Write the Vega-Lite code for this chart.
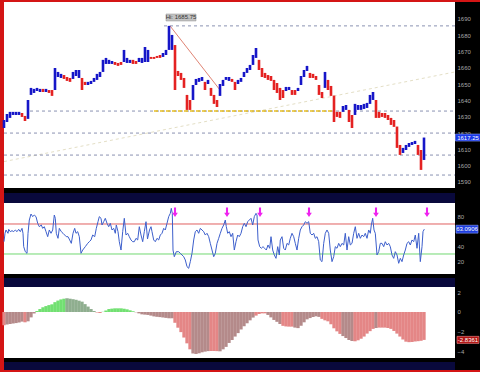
{
"$schema": "https://vega.github.io/schema/vega-lite/v6.json",
"background": "#d41515",
"padding": {"left": 2, "top": 2, "right": 2, "bottom": 2},
"spacing": 0,
"resolve": {"scale": {"color": "independent", "x": "independent", "y": "independent"}},
"config": {"view": {"fill": "#000000", "stroke": null}, "concat": {"spacing": 0},
  "axis": {"labelColor": "#a8a8a8", "labelFont": "Liberation Sans", "labelFontSize": 6, "ticks": false, "domain": false, "grid": false, "labelPadding": 2, "labelOverlap": false, "labelBound": false, "labelFlush": false},
  "text": {"font": "Liberation Sans"}},
"datasets": {
"one": [{"k": 1}],
"price": [
{"t":2,"h":1628,"l":1623.1,"d":"u"},{"t":5,"h":1631.7,"l":1626.8,"d":"u"},{"t":8,"h":1633,"l":1629.3,"d":"u"},{"t":11,"h":1633,"l":1631.1,"d":"u"},{"t":14,"h":1633,"l":1631.1,"d":"u"},{"t":17,"h":1633,"l":1631.1,"d":"u"},{"t":20,"h":1632.3,"l":1629.9,"d":"d"},{"t":23,"h":1630.5,"l":1627.4,"d":"d"},{"t":26,"h":1640.3,"l":1628.7,"d":"u"},{"t":29,"h":1647.7,"l":1643.4,"d":"u"},{"t":32,"h":1647.1,"l":1644.6,"d":"u"},{"t":35,"h":1647.7,"l":1645.8,"d":"u"},{"t":38,"h":1647.1,"l":1645.2,"d":"u"},{"t":41,"h":1647.1,"l":1645.2,"d":"d"},{"t":44,"h":1647.1,"l":1645.2,"d":"u"},{"t":47,"h":1646.4,"l":1644.6,"d":"d"},{"t":50,"h":1646.4,"l":1642.8,"d":"d"},{"t":53,"h":1659.9,"l":1646.4,"d":"u"},{"t":56,"h":1657.5,"l":1654.4,"d":"u"},{"t":59,"h":1656.3,"l":1653.8,"d":"u"},{"t":62,"h":1655.6,"l":1653.2,"d":"d"},{"t":65,"h":1654.4,"l":1652,"d":"d"},{"t":68,"h":1653.8,"l":1651.4,"d":"d"},{"t":71,"h":1657.5,"l":1653.2,"d":"u"},{"t":74,"h":1658.7,"l":1655,"d":"u"},{"t":77,"h":1658.7,"l":1653.8,"d":"u"},{"t":80,"h":1653.8,"l":1646.4,"d":"d"},{"t":83,"h":1651.4,"l":1649.5,"d":"d"},{"t":86,"h":1651.4,"l":1649.5,"d":"u"},{"t":89,"h":1652,"l":1650.1,"d":"u"},{"t":92,"h":1653.8,"l":1651.4,"d":"u"},{"t":95,"h":1656.3,"l":1652.6,"d":"u"},{"t":98,"h":1657.5,"l":1654.4,"d":"u"},{"t":101,"h":1664.9,"l":1657.5,"d":"u"},{"t":104,"h":1666.1,"l":1662.4,"d":"u"},{"t":107,"h":1664.9,"l":1662.4,"d":"u"},{"t":110,"h":1664.2,"l":1662.4,"d":"u"},{"t":113,"h":1663.6,"l":1661.8,"d":"d"},{"t":116,"h":1663,"l":1661.2,"d":"d"},{"t":119,"h":1663.6,"l":1661.8,"d":"d"},{"t":122,"h":1671,"l":1663.6,"d":"u"},{"t":125,"h":1666.1,"l":1663,"d":"u"},{"t":128,"h":1664.9,"l":1663,"d":"u"},{"t":131,"h":1664.9,"l":1662.4,"d":"d"},{"t":134,"h":1664.2,"l":1662.4,"d":"d"},{"t":137,"h":1666.1,"l":1663.6,"d":"u"},{"t":140,"h":1666.1,"l":1663,"d":"u"},{"t":143,"h":1672.8,"l":1663.6,"d":"u"},{"t":146,"h":1671,"l":1663.6,"d":"u"},{"t":149,"h":1666.7,"l":1665.5,"d":"d"},{"t":152,"h":1666.7,"l":1665.5,"d":"d"},{"t":155,"h":1667.3,"l":1666.1,"d":"d"},{"t":158,"h":1667.9,"l":1666.1,"d":"d"},{"t":161,"h":1669.1,"l":1666.7,"d":"u"},{"t":164,"h":1671,"l":1667.9,"d":"u"},{"t":167,"h":1685.75,"l":1671,"d":"u"},{"t":170,"h":1680.2,"l":1671,"d":"u"},{"t":173,"h":1674,"l":1646.4,"d":"d"},{"t":176,"h":1658.1,"l":1655,"d":"d"},{"t":179,"h":1656.9,"l":1652.6,"d":"d"},{"t":182,"h":1653.8,"l":1647.7,"d":"d"},{"t":185,"h":1643.4,"l":1634.2,"d":"d"},{"t":188,"h":1640.3,"l":1634.2,"d":"d"},{"t":191,"h":1649.5,"l":1640.3,"d":"u"},{"t":194,"h":1653.2,"l":1649.5,"d":"u"},{"t":197,"h":1653.8,"l":1651.4,"d":"u"},{"t":200,"h":1654.4,"l":1652,"d":"u"},{"t":203,"h":1651.4,"l":1646.4,"d":"d"},{"t":206,"h":1652.6,"l":1650.1,"d":"u"},{"t":209,"h":1647.7,"l":1642.8,"d":"d"},{"t":212,"h":1643.4,"l":1637.9,"d":"d"},{"t":215,"h":1640.3,"l":1636,"d":"d"},{"t":218,"h":1650.1,"l":1642.8,"d":"u"},{"t":221,"h":1652.6,"l":1648.9,"d":"u"},{"t":224,"h":1654.4,"l":1652.6,"d":"u"},{"t":227,"h":1654.4,"l":1652,"d":"u"},{"t":230,"h":1653.2,"l":1651.4,"d":"d"},{"t":233,"h":1651.4,"l":1646.4,"d":"d"},{"t":236,"h":1652.6,"l":1650.1,"d":"u"},{"t":239,"h":1653.8,"l":1651.4,"d":"u"},{"t":242,"h":1657.5,"l":1654.4,"d":"u"},{"t":245,"h":1659.9,"l":1656.9,"d":"u"},{"t":248,"h":1661.8,"l":1658.7,"d":"u"},{"t":251,"h":1667.9,"l":1661.8,"d":"u"},{"t":254,"h":1672.2,"l":1666.1,"d":"u"},{"t":257,"h":1664.9,"l":1658.7,"d":"d"},{"t":260,"h":1659.9,"l":1654.4,"d":"d"},{"t":263,"h":1656.9,"l":1653.8,"d":"d"},{"t":266,"h":1655.6,"l":1652.6,"d":"d"},{"t":269,"h":1655,"l":1652,"d":"d"},{"t":272,"h":1652.6,"l":1646.4,"d":"d"},{"t":275,"h":1650.7,"l":1644.6,"d":"d"},{"t":278,"h":1647.7,"l":1640.3,"d":"d"},{"t":281,"h":1646.4,"l":1641.5,"d":"d"},{"t":284,"h":1648.3,"l":1645.8,"d":"u"},{"t":287,"h":1648.3,"l":1646.4,"d":"u"},{"t":290,"h":1646.4,"l":1643.4,"d":"d"},{"t":293,"h":1646.4,"l":1643.4,"d":"d"},{"t":296,"h":1647.7,"l":1645.8,"d":"u"},{"t":299,"h":1655,"l":1649.5,"d":"u"},{"t":302,"h":1658.7,"l":1654.4,"d":"u"},{"t":305,"h":1661.2,"l":1658.1,"d":"u"},{"t":308,"h":1656.9,"l":1653.8,"d":"d"},{"t":311,"h":1656.3,"l":1653.8,"d":"d"},{"t":314,"h":1655,"l":1652.6,"d":"d"},{"t":317,"h":1649.5,"l":1643.4,"d":"d"},{"t":320,"h":1645.2,"l":1641.5,"d":"d"},{"t":323,"h":1657.5,"l":1647.7,"d":"u"},{"t":326,"h":1652.6,"l":1646.4,"d":"d"},{"t":329,"h":1648.9,"l":1642.8,"d":"d"},{"t":332,"h":1643,"l":1626.8,"d":"d"},{"t":335,"h":1633,"l":1629.9,"d":"d"},{"t":338,"h":1633,"l":1629.3,"d":"d"},{"t":341,"h":1636.6,"l":1633,"d":"u"},{"t":344,"h":1637.2,"l":1634.2,"d":"u"},{"t":347,"h":1634.2,"l":1626.8,"d":"d"},{"t":350,"h":1631.1,"l":1623.1,"d":"d"},{"t":353,"h":1637.9,"l":1631.1,"d":"u"},{"t":356,"h":1637.2,"l":1634.2,"d":"u"},{"t":359,"h":1637.2,"l":1634.2,"d":"u"},{"t":362,"h":1637.9,"l":1634.8,"d":"u"},{"t":365,"h":1638.5,"l":1635.4,"d":"u"},{"t":368,"h":1643.4,"l":1637.9,"d":"u"},{"t":371,"h":1645.2,"l":1640.3,"d":"u"},{"t":374,"h":1640.3,"l":1629.3,"d":"d"},{"t":377,"h":1633,"l":1629.3,"d":"d"},{"t":380,"h":1632.3,"l":1629.9,"d":"d"},{"t":383,"h":1632.3,"l":1629.3,"d":"d"},{"t":386,"h":1631.1,"l":1628,"d":"d"},{"t":389,"h":1629.3,"l":1625,"d":"d"},{"t":392,"h":1628,"l":1623.8,"d":"d"},{"t":395,"h":1624,"l":1610.9,"d":"d"},{"t":398,"h":1612.7,"l":1606.6,"d":"d"},{"t":401,"h":1610.9,"l":1607.8,"d":"u"},{"t":404,"h":1612.7,"l":1609.6,"d":"u"},{"t":407,"h":1613.9,"l":1611.5,"d":"u"},{"t":410,"h":1614.5,"l":1612.7,"d":"u"},{"t":413,"h":1615.2,"l":1613.3,"d":"u"},{"t":416,"h":1612.7,"l":1606.6,"d":"d"},{"t":419,"h":1609.6,"l":1597.4,"d":"d"},{"t":422,"h":1617.25,"l":1603.5,"d":"u"}
],
"levels": [{"v":1685.75,"t1":162},{"v":1633.5,"t1":28},{"v":1620,"t1":2},{"v":1606.5,"t1":2},{"v":1594.25,"t1":2}],
"ylevel": [{"v":1633.5,"t1":152,"t2":332}],
"trend": [{"t1":2,"v1":1602.5,"t2":453,"v2":1657.5}],
"fan": [{"t1":168,"v1":1685.75,"t2":218,"v2":1646.4}],
"hi": [{"lbl":"Hi: 1685.75"}],
"pv": [{"v":1617.25,"lbl":"1617.25"}],
"rsi": [
{"t":2,"v":46.4},{"t":3,"v":57.6},{"t":4,"v":62},{"t":6,"v":57.6},{"t":6.7,"v":62.9},{"t":8.3,"v":59.8},{"t":10,"v":61.1},{"t":11.7,"v":59.8},{"t":13.3,"v":62},{"t":15,"v":59.8},{"t":16.7,"v":62.9},{"t":18.3,"v":59.8},{"t":20,"v":64.2},{"t":21,"v":57.6},{"t":21.7,"v":39.8},{"t":23.3,"v":33.1},{"t":25,"v":30.9},{"t":26,"v":57.6},{"t":27.3,"v":75.3},{"t":29,"v":83.3},{"t":30.7,"v":79.8},{"t":32.3,"v":82},{"t":34,"v":79.8},{"t":35.7,"v":70.9},{"t":37.3,"v":66.4},{"t":39.3,"v":68.7},{"t":40.7,"v":64.2},{"t":42.3,"v":66.4},{"t":44,"v":59.8},{"t":45.7,"v":53.1},{"t":47.3,"v":62},{"t":49,"v":57.6},{"t":50.7,"v":62},{"t":52.3,"v":82},{"t":53.3,"v":77.6},{"t":54.3,"v":57.6},{"t":56,"v":50.9},{"t":57.3,"v":64.2},{"t":59.3,"v":59.8},{"t":61,"v":57.6},{"t":62.7,"v":55.3},{"t":64.3,"v":53.1},{"t":66,"v":53.1},{"t":67.7,"v":48.7},{"t":69.3,"v":44.2},{"t":71,"v":57.6},{"t":72.7,"v":64.2},{"t":74,"v":57.6},{"t":75.7,"v":59.8},{"t":77.3,"v":53.1},{"t":79,"v":30.9},{"t":80.7,"v":35.3},{"t":83.3,"v":39.8},{"t":85.7,"v":44.2},{"t":87.3,"v":46.4},{"t":89,"v":48.7},{"t":90.7,"v":55.3},{"t":92.7,"v":53.1},{"t":94.3,"v":64.2},{"t":96,"v":73.1},{"t":97.3,"v":79.8},{"t":99,"v":77.6},{"t":100,"v":68.7},{"t":101.7,"v":73.1},{"t":103.3,"v":77.6},{"t":105,"v":70.9},{"t":106.7,"v":66.4},{"t":108.3,"v":70.9},{"t":110,"v":62},{"t":111.7,"v":64.2},{"t":113.3,"v":57.6},{"t":114.3,"v":68.7},{"t":116,"v":59.8},{"t":117.3,"v":46.4},{"t":119,"v":35.3},{"t":120.7,"v":59.8},{"t":122.3,"v":77.6},{"t":124,"v":55.3},{"t":125.7,"v":57.6},{"t":127.3,"v":53.1},{"t":129,"v":48.7},{"t":130.7,"v":46.4},{"t":132.3,"v":46.4},{"t":134,"v":50.9},{"t":135.7,"v":48.7},{"t":137.3,"v":66.4},{"t":139,"v":55.3},{"t":140.7,"v":46.4},{"t":142.3,"v":59.8},{"t":144,"v":73.1},{"t":145.5,"v":50},{"t":147.5,"v":62},{"t":149,"v":66.4},{"t":150,"v":59.8},{"t":151.7,"v":48.7},{"t":153.3,"v":46.4},{"t":155,"v":50.9},{"t":156.7,"v":48.7},{"t":158.3,"v":55.3},{"t":160,"v":57.6},{"t":161.7,"v":64.2},{"t":163.3,"v":62},{"t":165,"v":70.9},{"t":166.7,"v":79.8},{"t":168.3,"v":84.2},{"t":169.3,"v":90.9},{"t":170.3,"v":84.2},{"t":171,"v":35.3},{"t":172.3,"v":26.4},{"t":174.3,"v":33.1},{"t":176.7,"v":33.1},{"t":178.3,"v":30.9},{"t":180,"v":28.7},{"t":181.7,"v":26.4},{"t":183.3,"v":22},{"t":185,"v":13.1},{"t":186.7,"v":10.9},{"t":188.3,"v":19.8},{"t":190,"v":30.9},{"t":191.7,"v":48.7},{"t":193.3,"v":59.8},{"t":195,"v":62},{"t":196.7,"v":57.6},{"t":198.3,"v":64.2},{"t":200,"v":62},{"t":201.7,"v":59.8},{"t":203.3,"v":55.3},{"t":205,"v":57.6},{"t":206.7,"v":53.1},{"t":208.3,"v":44.2},{"t":210,"v":35.3},{"t":211.7,"v":26.4},{"t":213.3,"v":30.9},{"t":215,"v":44.2},{"t":216.7,"v":50.9},{"t":218.3,"v":57.6},{"t":220,"v":64.2},{"t":221.7,"v":68.7},{"t":223.3,"v":75.3},{"t":224.3,"v":66.4},{"t":225.7,"v":57.6},{"t":227.3,"v":59.8},{"t":229,"v":53.1},{"t":230.7,"v":57.6},{"t":232.3,"v":35.3},{"t":234,"v":46.4},{"t":235.7,"v":55.3},{"t":237.3,"v":53.1},{"t":239,"v":57.6},{"t":240.7,"v":66.4},{"t":242.3,"v":70.9},{"t":244,"v":66.4},{"t":245.7,"v":73.1},{"t":247.3,"v":75.3},{"t":249,"v":77.6},{"t":250.7,"v":68.7},{"t":252.3,"v":79.8},{"t":254,"v":84.2},{"t":255,"v":82},{"t":256,"v":48.7},{"t":257.7,"v":39.8},{"t":259.3,"v":37.6},{"t":261,"v":39.8},{"t":262.7,"v":37.6},{"t":264.3,"v":35.3},{"t":266,"v":42},{"t":267.7,"v":37.6},{"t":269,"v":53.1},{"t":270.7,"v":35.3},{"t":272.3,"v":28.7},{"t":274,"v":24.2},{"t":275.7,"v":39.8},{"t":277.3,"v":28.7},{"t":278.3,"v":48.7},{"t":280,"v":53.1},{"t":281.7,"v":37.6},{"t":283.3,"v":35.3},{"t":285,"v":44.2},{"t":286.7,"v":42},{"t":288.3,"v":50.9},{"t":290,"v":57.6},{"t":291.7,"v":53.1},{"t":293.3,"v":44.2},{"t":295,"v":35.3},{"t":296.7,"v":50.9},{"t":298.3,"v":62},{"t":300,"v":66.4},{"t":301.7,"v":68.7},{"t":303.3,"v":73.1},{"t":305,"v":70.9},{"t":306.7,"v":73.1},{"t":308.3,"v":57.6},{"t":310,"v":55.3},{"t":311.7,"v":57.6},{"t":313.3,"v":50.9},{"t":315,"v":53.1},{"t":316.7,"v":46.4},{"t":318.3,"v":22},{"t":320,"v":19.8},{"t":321.7,"v":44.2},{"t":323.3,"v":57.6},{"t":325,"v":62},{"t":326.7,"v":57.6},{"t":328.3,"v":35.3},{"t":330,"v":19.8},{"t":331.7,"v":26.4},{"t":333.3,"v":39.8},{"t":335,"v":37.6},{"t":336.7,"v":44.2},{"t":338.3,"v":39.8},{"t":340,"v":44.2},{"t":341.7,"v":42},{"t":343.3,"v":57.6},{"t":345,"v":35.3},{"t":346.7,"v":53.1},{"t":348.3,"v":42},{"t":350,"v":44.2},{"t":351.7,"v":57.6},{"t":353.3,"v":66.4},{"t":355,"v":50.9},{"t":356.7,"v":57.6},{"t":358.3,"v":50.9},{"t":360,"v":55.3},{"t":361.7,"v":53.1},{"t":363.3,"v":57.6},{"t":365,"v":50.9},{"t":366.7,"v":62},{"t":368.3,"v":57.6},{"t":369.3,"v":68.7},{"t":370.7,"v":77.6},{"t":372,"v":62},{"t":373.3,"v":57.6},{"t":375,"v":28.7},{"t":376.7,"v":33.1},{"t":378.3,"v":44.2},{"t":380,"v":44.2},{"t":381.7,"v":39.8},{"t":383.3,"v":46.4},{"t":385,"v":42},{"t":386.7,"v":44.2},{"t":388.3,"v":39.8},{"t":390,"v":28.7},{"t":391.7,"v":24.2},{"t":393.3,"v":33.1},{"t":395,"v":28.7},{"t":396.7,"v":17.6},{"t":398.3,"v":24.2},{"t":400,"v":19.8},{"t":401.7,"v":28.7},{"t":403.3,"v":35.3},{"t":405,"v":44.2},{"t":406.7,"v":46.4},{"t":408.3,"v":42},{"t":410,"v":48.7},{"t":411.7,"v":46.4},{"t":413.3,"v":55.3},{"t":415,"v":37.6},{"t":416.7,"v":57.6},{"t":418.3,"v":19.8},{"t":420,"v":39.8},{"t":421,"v":59.8},{"t":422.3,"v":63.09}
],
"rsilv": [{"v":70,"k":"ob"},{"v":30,"k":"os"}],
"arrows": [{"t":173},{"t":225},{"t":258},{"t":307},{"t":374},{"t":425}],
"rv": [{"v":63.0906,"lbl":"63.0906"}],
"hist": [
{"t":2,"h":-1.35,"c":"r"},{"t":5,"h":-1.28,"c":"rd"},{"t":8,"h":-1.23,"c":"rd"},{"t":11,"h":-1.18,"c":"rd"},{"t":14,"h":-1.13,"c":"rd"},{"t":17,"h":-1.06,"c":"rd"},{"t":20,"h":-0.98,"c":"rd"},{"t":23,"h":-1.05,"c":"r"},{"t":26,"h":-0.95,"c":"rd"},{"t":29,"h":-0.55,"c":"rd"},{"t":32,"h":-0.15,"c":"rd"},{"t":35,"h":0.1,"c":"g"},{"t":38,"h":0.3,"c":"g"},{"t":41,"h":0.48,"c":"g"},{"t":44,"h":0.6,"c":"g"},{"t":47,"h":0.7,"c":"g"},{"t":50,"h":0.78,"c":"g"},{"t":53,"h":1.0,"c":"g"},{"t":56,"h":1.16,"c":"g"},{"t":59,"h":1.28,"c":"g"},{"t":62,"h":1.35,"c":"g"},{"t":65,"h":1.39,"c":"gd"},{"t":68,"h":1.35,"c":"gd"},{"t":71,"h":1.3,"c":"gd"},{"t":74,"h":1.24,"c":"gd"},{"t":77,"h":1.15,"c":"gd"},{"t":80,"h":1.05,"c":"gd"},{"t":83,"h":0.8,"c":"gd"},{"t":86,"h":0.55,"c":"gd"},{"t":89,"h":0.3,"c":"gd"},{"t":92,"h":0.1,"c":"gd"},{"t":95,"h":-0.05,"c":"r"},{"t":98,"h":-0.1,"c":"r"},{"t":101,"h":0.02,"c":"g"},{"t":104,"h":0.15,"c":"g"},{"t":107,"h":0.3,"c":"g"},{"t":110,"h":0.34,"c":"g"},{"t":113,"h":0.37,"c":"g"},{"t":116,"h":0.37,"c":"g"},{"t":119,"h":0.37,"c":"g"},{"t":122,"h":0.33,"c":"g"},{"t":125,"h":0.27,"c":"g"},{"t":128,"h":0.17,"c":"g"},{"t":131,"h":0.07,"c":"g"},{"t":134,"h":-0.03,"c":"rd"},{"t":137,"h":-0.14,"c":"rd"},{"t":140,"h":-0.24,"c":"rd"},{"t":143,"h":-0.27,"c":"rd"},{"t":146,"h":-0.3,"c":"rd"},{"t":149,"h":-0.37,"c":"rd"},{"t":152,"h":-0.45,"c":"rd"},{"t":155,"h":-0.49,"c":"rd"},{"t":158,"h":-0.52,"c":"rd"},{"t":161,"h":-0.56,"c":"rd"},{"t":164,"h":-0.6,"c":"rd"},{"t":167,"h":-0.64,"c":"rd"},{"t":170,"h":-0.64,"c":"rd"},{"t":173,"h":-1.1,"c":"r"},{"t":176,"h":-1.6,"c":"r"},{"t":179,"h":-2.05,"c":"r"},{"t":182,"h":-2.6,"c":"r"},{"t":185,"h":-3.19,"c":"r"},{"t":188,"h":-3.8,"c":"r"},{"t":191,"h":-4.22,"c":"rd"},{"t":194,"h":-4.27,"c":"rd"},{"t":197,"h":-4.2,"c":"rd"},{"t":200,"h":-4.1,"c":"rd"},{"t":203,"h":-4.03,"c":"rd"},{"t":206,"h":-3.98,"c":"rd"},{"t":209,"h":-3.97,"c":"r"},{"t":212,"h":-3.97,"c":"r"},{"t":215,"h":-3.98,"c":"r"},{"t":218,"h":-4.0,"c":"rd"},{"t":221,"h":-3.8,"c":"rd"},{"t":224,"h":-3.55,"c":"rd"},{"t":227,"h":-3.15,"c":"rd"},{"t":230,"h":-2.85,"c":"rd"},{"t":233,"h":-2.5,"c":"rd"},{"t":236,"h":-2.15,"c":"rd"},{"t":239,"h":-1.78,"c":"rd"},{"t":242,"h":-1.45,"c":"rd"},{"t":245,"h":-1.15,"c":"rd"},{"t":248,"h":-0.85,"c":"rd"},{"t":251,"h":-0.57,"c":"rd"},{"t":254,"h":-0.37,"c":"r"},{"t":257,"h":-0.2,"c":"r"},{"t":260,"h":-0.14,"c":"r"},{"t":263,"h":-0.14,"c":"r"},{"t":266,"h":-0.3,"c":"rd"},{"t":269,"h":-0.55,"c":"rd"},{"t":272,"h":-0.81,"c":"rd"},{"t":275,"h":-1.0,"c":"rd"},{"t":278,"h":-1.22,"c":"rd"},{"t":281,"h":-1.41,"c":"r"},{"t":284,"h":-1.47,"c":"r"},{"t":287,"h":-1.49,"c":"r"},{"t":290,"h":-1.49,"c":"r"},{"t":293,"h":-1.59,"c":"rd"},{"t":296,"h":-1.64,"c":"rd"},{"t":299,"h":-1.4,"c":"rd"},{"t":302,"h":-1.05,"c":"rd"},{"t":305,"h":-0.75,"c":"rd"},{"t":308,"h":-0.62,"c":"rd"},{"t":311,"h":-0.51,"c":"rd"},{"t":314,"h":-0.44,"c":"rd"},{"t":317,"h":-0.5,"c":"rd"},{"t":320,"h":-0.7,"c":"r"},{"t":323,"h":-0.85,"c":"r"},{"t":326,"h":-0.95,"c":"r"},{"t":329,"h":-1.25,"c":"r"},{"t":332,"h":-1.66,"c":"r"},{"t":335,"h":-1.97,"c":"r"},{"t":338,"h":-2.23,"c":"r"},{"t":341,"h":-2.45,"c":"rd"},{"t":344,"h":-2.65,"c":"rd"},{"t":347,"h":-2.85,"c":"rd"},{"t":350,"h":-2.95,"c":"rd"},{"t":353,"h":-2.98,"c":"r"},{"t":356,"h":-2.88,"c":"r"},{"t":359,"h":-2.72,"c":"r"},{"t":362,"h":-2.5,"c":"r"},{"t":365,"h":-2.2,"c":"r"},{"t":368,"h":-1.95,"c":"r"},{"t":371,"h":-1.72,"c":"r"},{"t":374,"h":-1.63,"c":"rd"},{"t":377,"h":-1.59,"c":"r"},{"t":380,"h":-1.59,"c":"r"},{"t":383,"h":-1.59,"c":"r"},{"t":386,"h":-1.63,"c":"r"},{"t":389,"h":-1.72,"c":"r"},{"t":392,"h":-1.93,"c":"r"},{"t":395,"h":-2.2,"c":"r"},{"t":398,"h":-2.5,"c":"r"},{"t":401,"h":-2.8,"c":"r"},{"t":404,"h":-3.02,"c":"r"},{"t":407,"h":-3.07,"c":"r"},{"t":410,"h":-3.05,"c":"r"},{"t":413,"h":-3.0,"c":"r"},{"t":416,"h":-2.97,"c":"r"},{"t":419,"h":-2.93,"c":"r"},{"t":422,"h":-2.84,"c":"r"}
],
"hv": [{"v":-2.8361,"lbl":"-2.8361"}]
},
"vconcat": [
{
"width": 476, "height": 186,
"layer": [
{"data": {"name": "one"}, "mark": {"type": "rect", "color": "#ffffff"},
 "encoding": {"x": {"datum": 2, "type": "quantitative", "scale": {"domain": [2, 478], "nice": false, "zero": false, "padding": 0}, "axis": null}, "x2": {"datum": 453},
  "y": {"datum": 1586.3, "type": "quantitative", "scale": {"domain": [1586.3, 1700.4], "nice": false, "zero": false}, "axis": {"orient": "right", "offset": -25, "values": [1590,1600,1610,1620,1630,1640,1650,1660,1670,1680,1690], "format": "d", "title": null, "labelOverlap": false}}, "y2": {"datum": 1700.4}}},
{"data": {"name": "trend"}, "mark": {"type": "rule", "color": "#e4dfc6", "strokeWidth": 1, "strokeDash": [3, 3]},
 "encoding": {"x": {"field": "t1", "type": "quantitative", "axis": null}, "x2": {"field": "t2"}, "y": {"field": "v1", "type": "quantitative", "axis": {"orient": "right", "offset": -25, "values": [1590,1600,1610,1620,1630,1640,1650,1660,1670,1680,1690], "format": "d", "title": null, "labelOverlap": false}}, "y2": {"field": "v2"}}},
{"data": {"name": "levels"}, "mark": {"type": "rule", "color": "#8a92b2", "strokeWidth": 1, "strokeDash": [3, 3]},
 "encoding": {"x": {"field": "t1", "type": "quantitative", "axis": null}, "x2": {"datum": 453}, "y": {"field": "v", "type": "quantitative", "axis": {"orient": "right", "offset": -25, "values": [1590,1600,1610,1620,1630,1640,1650,1660,1670,1680,1690], "format": "d", "title": null, "labelOverlap": false}}}},
{"data": {"name": "ylevel"}, "mark": {"type": "rule", "color": "#e8be22", "strokeWidth": 1.5, "strokeDash": [4, 2]},
 "encoding": {"x": {"field": "t1", "type": "quantitative", "axis": null}, "x2": {"field": "t2"}, "y": {"field": "v", "type": "quantitative", "axis": {"orient": "right", "offset": -25, "values": [1590,1600,1610,1620,1630,1640,1650,1660,1670,1680,1690], "format": "d", "title": null, "labelOverlap": false}}}},
{"data": {"name": "fan"}, "mark": {"type": "rule", "color": "#e08474", "strokeWidth": 1},
 "encoding": {"x": {"field": "t1", "type": "quantitative", "axis": null}, "x2": {"field": "t2"}, "y": {"field": "v1", "type": "quantitative", "axis": {"orient": "right", "offset": -25, "values": [1590,1600,1610,1620,1630,1640,1650,1660,1670,1680,1690], "format": "d", "title": null, "labelOverlap": false}}, "y2": {"field": "v2"}}},
{"data": {"name": "price"}, "mark": {"type": "rule", "strokeWidth": 2.6},
 "encoding": {"x": {"field": "t", "type": "quantitative", "axis": null}, "y": {"field": "h", "type": "quantitative", "axis": {"orient": "right", "offset": -25, "values": [1590,1600,1610,1620,1630,1640,1650,1660,1670,1680,1690], "format": "d", "title": null, "labelOverlap": false}}, "y2": {"field": "l"},
  "color": {"field": "d", "type": "nominal", "scale": {"domain": ["u", "d"], "range": ["#1616c8", "#e42222"]}, "legend": null}}},
{"data": {"name": "hi"}, "mark": {"type": "point", "shape": "M-1,-0.233L1,-0.233L1,0.233L-1,0.233Z", "size": 900, "filled": true, "fill": "#c2c2c2", "stroke": "#909090", "strokeWidth": 0.5, "opacity": 1},
 "encoding": {"x": {"datum": 179, "type": "quantitative", "axis": null}, "y": {"datum": 1690.9, "type": "quantitative", "axis": {"orient": "right", "offset": -25, "values": [1590,1600,1610,1620,1630,1640,1650,1660,1670,1680,1690], "format": "d", "title": null, "labelOverlap": false}}}},
{"data": {"name": "hi"}, "mark": {"type": "text", "fontSize": 6, "color": "#333333", "align": "center", "baseline": "middle"},
 "encoding": {"x": {"datum": 179, "type": "quantitative", "axis": null}, "y": {"datum": 1690.9, "type": "quantitative", "axis": {"orient": "right", "offset": -25, "values": [1590,1600,1610,1620,1630,1640,1650,1660,1670,1680,1690], "format": "d", "title": null, "labelOverlap": false}}, "text": {"field": "lbl"}}},
{"data": {"name": "pv"}, "mark": {"type": "point", "shape": "M-1,-0.28L1,-0.28L1,0.28L-1,0.28Z", "size": 625, "filled": true, "fill": "#1a38e6", "stroke": "#8aa0ff", "strokeWidth": 0.6, "opacity": 1},
 "encoding": {"x": {"datum": 466, "type": "quantitative", "axis": null}, "y": {"field": "v", "type": "quantitative", "axis": {"orient": "right", "offset": -25, "values": [1590,1600,1610,1620,1630,1640,1650,1660,1670,1680,1690], "format": "d", "title": null, "labelOverlap": false}}}},
{"data": {"name": "pv"}, "mark": {"type": "text", "fontSize": 6, "color": "#ffffff", "align": "center", "baseline": "middle"},
 "encoding": {"x": {"datum": 466, "type": "quantitative", "axis": null}, "y": {"field": "v", "type": "quantitative", "axis": {"orient": "right", "offset": -25, "values": [1590,1600,1610,1620,1630,1640,1650,1660,1670,1680,1690], "format": "d", "title": null, "labelOverlap": false}}, "text": {"field": "lbl"}}}
]
},
{"width": 476, "height": 5, "data": {"name": "one"}, "mark": {"type": "rect", "opacity": 0},
 "encoding": {"x": {"datum": 2, "type": "quantitative", "scale": {"domain": [2, 478]}, "axis": null}, "x2": {"datum": 453}, "y": {"datum": 0, "type": "quantitative", "scale": {"domain": [0, 1]}, "axis": null}, "y2": {"datum": 1}}},
{"width": 476, "height": 10, "data": {"name": "one"}, "mark": {"type": "rect", "color": "#09093c"},
 "encoding": {"x": {"datum": 2, "type": "quantitative", "scale": {"domain": [2, 478], "nice": false, "zero": false, "padding": 0}, "axis": null}, "x2": {"datum": 453}, "y": {"datum": 0, "type": "quantitative", "scale": {"domain": [0, 1]}, "axis": null}, "y2": {"datum": 1}}},
{
"width": 476, "height": 71,
"layer": [
{"data": {"name": "one"}, "mark": {"type": "rect", "color": "#ffffff"},
 "encoding": {"x": {"datum": 2, "type": "quantitative", "scale": {"domain": [2, 478], "nice": false, "zero": false, "padding": 0}, "axis": null}, "x2": {"datum": 453},
  "y": {"datum": 3.33, "type": "quantitative", "scale": {"domain": [3.33, 98], "nice": false, "zero": false}, "axis": {"orient": "right", "offset": -25, "values": [20, 40, 80], "title": null, "labelOverlap": false}}, "y2": {"datum": 98}}},
{"data": {"name": "rsilv"}, "mark": {"type": "rule", "strokeWidth": 1},
 "encoding": {"x": {"datum": 2, "type": "quantitative", "axis": null}, "x2": {"datum": 453}, "y": {"field": "v", "type": "quantitative", "axis": {"orient": "right", "offset": -25, "values": [20, 40, 80], "title": null, "labelOverlap": false}},
  "color": {"field": "k", "type": "nominal", "scale": {"domain": ["ob", "os"], "range": ["#e06060", "#72d872"]}, "legend": null}}},
{"data": {"name": "rsi"}, "mark": {"type": "line", "color": "#3d5fcc", "strokeWidth": 1},
 "encoding": {"x": {"field": "t", "type": "quantitative", "axis": null}, "y": {"field": "v", "type": "quantitative", "axis": {"orient": "right", "offset": -25, "values": [20, 40, 80], "title": null, "labelOverlap": false}}}},
{"data": {"name": "arrows"}, "mark": {"type": "point", "shape": "M-0.22,-1L0.22,-1L0.22,0.1L0.6,0.1L0,1L-0.6,0.1L-0.22,0.1Z", "size": 90, "filled": true, "color": "#ee22ee", "opacity": 1},
 "encoding": {"x": {"field": "t", "type": "quantitative", "axis": null}, "y": {"datum": 85.6, "type": "quantitative", "axis": {"orient": "right", "offset": -25, "values": [20, 40, 80], "title": null, "labelOverlap": false}}}},
{"data": {"name": "rv"}, "mark": {"type": "point", "shape": "M-1,-0.36L1,-0.36L1,0.36L-1,0.36Z", "size": 484, "filled": true, "fill": "#1e3ee0", "stroke": "#8aa0ff", "strokeWidth": 0.6, "opacity": 1},
 "encoding": {"x": {"datum": 465, "type": "quantitative", "axis": null}, "y": {"field": "v", "type": "quantitative", "axis": {"orient": "right", "offset": -25, "values": [20, 40, 80], "title": null, "labelOverlap": false}}}},
{"data": {"name": "rv"}, "mark": {"type": "text", "fontSize": 6, "color": "#ffffff", "align": "center", "baseline": "middle"},
 "encoding": {"x": {"datum": 465, "type": "quantitative", "axis": null}, "y": {"field": "v", "type": "quantitative", "axis": {"orient": "right", "offset": -25, "values": [20, 40, 80], "title": null, "labelOverlap": false}}, "text": {"field": "lbl"}}}
]
},
{"width": 476, "height": 4, "data": {"name": "one"}, "mark": {"type": "rect", "opacity": 0},
 "encoding": {"x": {"datum": 2, "type": "quantitative", "scale": {"domain": [2, 478]}, "axis": null}, "x2": {"datum": 453}, "y": {"datum": 0, "type": "quantitative", "scale": {"domain": [0, 1]}, "axis": null}, "y2": {"datum": 1}}},
{"width": 476, "height": 9, "data": {"name": "one"}, "mark": {"type": "rect", "color": "#09093c"},
 "encoding": {"x": {"datum": 2, "type": "quantitative", "scale": {"domain": [2, 478], "nice": false, "zero": false, "padding": 0}, "axis": null}, "x2": {"datum": 453}, "y": {"datum": 0, "type": "quantitative", "scale": {"domain": [0, 1]}, "axis": null}, "y2": {"datum": 1}}},
{
"width": 476, "height": 71,
"layer": [
{"data": {"name": "one"}, "mark": {"type": "rect", "color": "#ffffff"},
 "encoding": {"x": {"datum": 2, "type": "quantitative", "scale": {"domain": [2, 478], "nice": false, "zero": false, "padding": 0}, "axis": null}, "x2": {"datum": 453},
  "y": {"datum": -4.68, "type": "quantitative", "scale": {"domain": [-4.68, 2.54], "nice": false, "zero": false}, "axis": {"orient": "right", "offset": -25, "values": [-4, -2, 0, 2], "title": null, "labelOverlap": false}}, "y2": {"datum": 2.54}}},
{"data": {"name": "hist"}, "mark": {"type": "bar", "width": 3.3},
 "encoding": {"x": {"field": "t", "type": "quantitative", "axis": null}, "y": {"field": "h", "type": "quantitative", "axis": {"orient": "right", "offset": -25, "values": [-4, -2, 0, 2], "title": null, "labelOverlap": false}}, "y2": {"datum": 0},
  "color": {"field": "c", "type": "nominal", "scale": {"domain": ["g", "gd", "r", "rd"], "range": ["#72e072", "#8fae8f", "#e48686", "#b48a8a"]}, "legend": null}}},
{"data": {"name": "hv"}, "mark": {"type": "point", "shape": "M-1,-0.32L1,-0.32L1,0.32L-1,0.32Z", "size": 484, "filled": true, "fill": "#b01212", "stroke": "#ff9090", "strokeWidth": 0.6, "opacity": 1},
 "encoding": {"x": {"datum": 466, "type": "quantitative", "axis": null}, "y": {"field": "v", "type": "quantitative", "axis": {"orient": "right", "offset": -25, "values": [-4, -2, 0, 2], "title": null, "labelOverlap": false}}}},
{"data": {"name": "hv"}, "mark": {"type": "text", "fontSize": 6, "color": "#ffffff", "align": "center", "baseline": "middle"},
 "encoding": {"x": {"datum": 466, "type": "quantitative", "axis": null}, "y": {"field": "v", "type": "quantitative", "axis": {"orient": "right", "offset": -25, "values": [-4, -2, 0, 2], "title": null, "labelOverlap": false}}, "text": {"field": "lbl"}}}
]
},
{"width": 476, "height": 4, "data": {"name": "one"}, "mark": {"type": "rect", "opacity": 0},
 "encoding": {"x": {"datum": 2, "type": "quantitative", "scale": {"domain": [2, 478]}, "axis": null}, "x2": {"datum": 453}, "y": {"datum": 0, "type": "quantitative", "scale": {"domain": [0, 1]}, "axis": null}, "y2": {"datum": 1}}},
{"width": 476, "height": 8, "data": {"name": "one"}, "mark": {"type": "rect", "color": "#09093c"},
 "encoding": {"x": {"datum": 2, "type": "quantitative", "scale": {"domain": [2, 478], "nice": false, "zero": false, "padding": 0}, "axis": null}, "x2": {"datum": 453}, "y": {"datum": 0, "type": "quantitative", "scale": {"domain": [0, 1]}, "axis": null}, "y2": {"datum": 1}}}
]
}
